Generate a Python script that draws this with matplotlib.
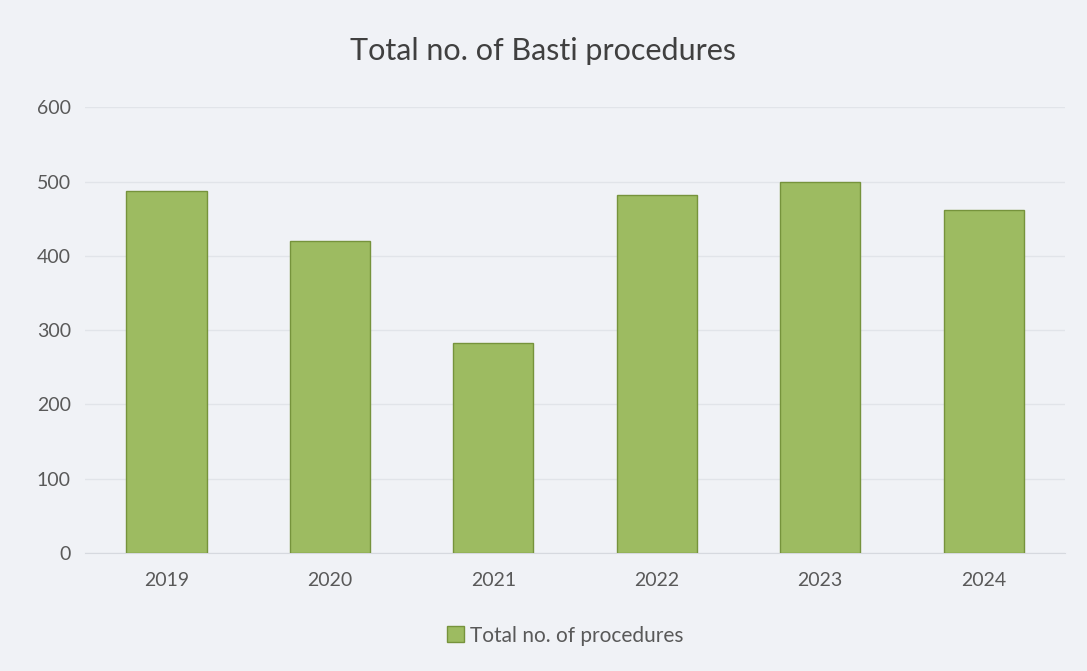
import matplotlib.pyplot as plt

plt.rcParams['font.family'] = ['Lato', 'DejaVu Sans']

# values
years = ["2019", "2020", "2021", "2022", "2023", "2024"]
procedures = [488, 420, 282, 482, 499, 462]

bg = "#f0f2f6"
bar_color = "#9dbb61"
edge_color = "#76933c"
text_color = "#595959"

fig = plt.figure(figsize=(10.87, 6.71), dpi=100, facecolor=bg)
ax = fig.add_axes([0.078, 0.176, 0.902, 0.664], facecolor=bg)

x = range(len(years))
ax.bar(x, procedures, width=0.49, color=bar_color, edgecolor=edge_color,
       linewidth=1.0, label="Total no. of procedures", zorder=3)

ax.set_xlim(-0.5, 5.5)
ax.set_ylim(0, 600)
ax.set_yticks(range(0, 601, 100))
ax.set_xticks(list(x))
ax.set_xticklabels(years)
ax.grid(axis="y", color="#e1e4e9", linewidth=1.0, zorder=0)
ax.set_axisbelow(True)

for s in ["top", "right", "left"]:
    ax.spines[s].set_visible(False)
ax.spines["bottom"].set_color("#d6d9df")

ax.tick_params(axis="both", length=0, labelsize=14, colors=text_color)
ax.tick_params(axis="y", pad=10)
ax.tick_params(axis="x", pad=14)

fig.suptitle("Total no. of Basti procedures", y=0.945, fontsize=22,
             color="#404040")

fig.legend(loc="lower center", bbox_to_anchor=(0.52, 0.01), frameon=False,
           fontsize=15, labelcolor=text_color, handlelength=0.8,
           handleheight=0.8, handletextpad=0.3)

fig.savefig("out.png", dpi=100, facecolor=bg)
